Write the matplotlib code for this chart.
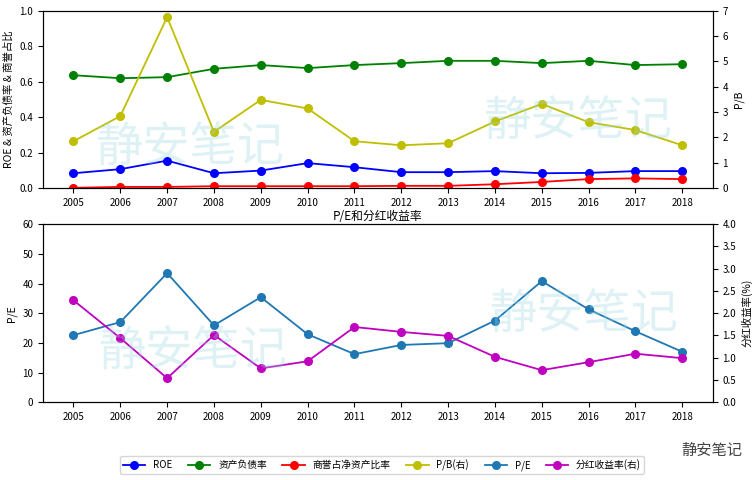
import numpy as np
from matplotlib import pyplot as plt

plt.rcParams['font.family'] = ['Noto Sans CJK SC', 'DejaVu Sans']
plt.rcParams['axes.unicode_minus'] = False

# data
years = list(range(2005, 2019))
roe = [0.084, 0.107, 0.155, 0.084, 0.099, 0.141, 0.118, 0.090, 0.090, 0.096, 0.084, 0.086, 0.096, 0.096]
debt = [0.636, 0.619, 0.625, 0.672, 0.693, 0.676, 0.693, 0.704, 0.717, 0.717, 0.704, 0.717, 0.693, 0.698]
goodwill = [0.002, 0.007, 0.007, 0.011, 0.011, 0.011, 0.011, 0.013, 0.013, 0.022, 0.035, 0.051, 0.055, 0.051]
pb = [1.85, 2.84, 6.74, 2.22, 3.48, 3.14, 1.85, 1.69, 1.77, 2.63, 3.32, 2.60, 2.29, 1.69]
pe = [22.6, 27.0, 43.5, 25.9, 35.4, 22.9, 16.2, 19.3, 19.9, 27.5, 40.8, 31.3, 23.9, 17.0]
div_yield = [2.29, 1.44, 0.54, 1.51, 0.76, 0.92, 1.69, 1.58, 1.49, 1.02, 0.72, 0.90, 1.09, 0.99]

fig = plt.figure(figsize=(7.55, 4.8), dpi=100)
ax1 = fig.add_axes([0.057, 0.608, 0.887, 0.370])
ax2 = ax1.twinx()
ax3 = fig.add_axes([0.057, 0.162, 0.887, 0.371])
ax4 = ax3.twinx()

ms = 5.5
lw = 1.3
l1, = ax1.plot(years, roe, 'b-o', ms=ms, lw=lw, label='ROE')
l2, = ax1.plot(years, debt, 'g-o', ms=ms, lw=lw, label='资产负债率')
l3, = ax1.plot(years, goodwill, 'r-o', ms=ms, lw=lw, label='商誉占净资产比率')
l4, = ax2.plot(years, pb, 'y-o', ms=ms, lw=lw, label='P/B(右)')
l5, = ax3.plot(years, pe, '-o', color='C0', ms=ms, lw=lw, label='P/E')
l6, = ax4.plot(years, div_yield, 'm-o', ms=ms, lw=lw, label='分红收益率(右)')

fs = 7
ax1.set_ylim(0, 1.0)
ax2.set_ylim(0, 7)
ax3.set_ylim(0, 60)
ax4.set_ylim(0, 4.0)
ax4.set_yticks(np.arange(0, 4.01, 0.5))
for ax in (ax1, ax2, ax3, ax4):
    ax.set_xticks(years)
    ax.tick_params(labelsize=fs)

ax1.set_ylabel('ROE & 资产负债率 & 商誉占比', fontsize=7.5)
ax2.set_ylabel('P/B', fontsize=7.5)
ax3.set_ylabel('P/E', fontsize=7.5)
ax4.set_ylabel('分红收益率(%)', fontsize=7.5)
ax3.set_title('P/E和分红收益率', fontsize=8.5, pad=3)

# watermarks
wm = dict(fontsize=34, color='#9ad8e0', alpha=0.32, ha='center', va='center', zorder=10)
fig.text(190 / 755, 1 - 148 / 480, '静安笔记', **wm)
fig.text(578 / 755, 1 - 122 / 480, '静安笔记', **wm)
fig.text(193 / 755, 1 - 352 / 480, '静安笔记', **wm)
fig.text(584 / 755, 1 - 315 / 480, '静安笔记', **wm)
fig.text(712 / 755, 1 - 450 / 480, '静安笔记', fontsize=11, color='#444444', ha='center', va='center')

fig.legend([l1, l2, l3, l4, l5, l6], [l.get_label() for l in (l1, l2, l3, l4, l5, l6)],
           loc='center', bbox_to_anchor=(0.506, 1 - 465 / 480), ncol=6, fontsize=7,
           columnspacing=1.6, handlelength=2.3, borderpad=0.3)

fig.savefig('out.png', dpi=100)
